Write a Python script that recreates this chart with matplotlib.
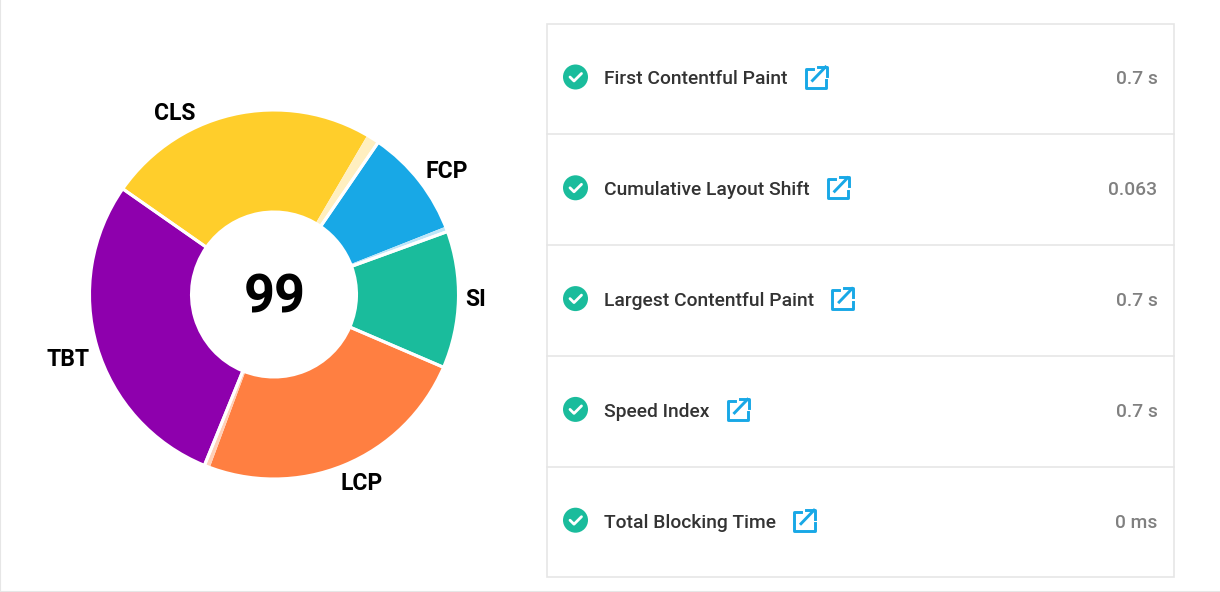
import matplotlib
matplotlib.use('Agg')
import matplotlib.pyplot as plt
from matplotlib.patches import Circle, Rectangle

plt.rcParams['font.family'] = ['Roboto', 'DejaVu Sans']

# donut, clockwise from FCP
slices = ['FCP', 'SI', 'LCP', 'TBT', 'CLS']
weights = [9.9, 12.0, 24.7, 28.55, 24.85]
scores = [0.955, 1.0, 0.98, 1.0, 0.955]
colors = ['#18a8e6', '#1abc9c', '#ff7f41', '#8e00ad', '#ffce2b']
light_colors = ['#bfe6f8', '#c6eee6', '#ffd0b8', '#e2bfea', '#ffefc0']
total_score = '99'

# metric table
metrics = ['First Contentful Paint', 'Cumulative Layout Shift', 'Largest Contentful Paint',
           'Speed Index', 'Total Blocking Time']
metric_values = ['0.7 s', '0.063', '0.7 s', '0.7 s', '0 ms']

W, H = 1220, 592
BORDER = '#e6e6e6'
GREEN = '#1abc9c'
BLUE = '#18a8e6'

fig = plt.figure(figsize=(W / 100, H / 100), dpi=100, facecolor='white')

# overlay in pixel coordinates
ax = fig.add_axes([0, 0, 1, 1])
ax.set_xlim(0, W)
ax.set_ylim(H, 0)
ax.axis('off')

# page edges
ax.plot([0.3, 0.3], [0, 591], color=BORDER, lw=0.8)
ax.plot([0, W], [591, 591], color=BORDER, lw=0.8)

# donut
cx, cy, radius, hole = 274, 294.5, 184.5, 82.5
pie_lim = 1.05
box = radius * pie_lim
pie_ax = fig.add_axes([(cx - box) / W, 1 - (cy + box) / H, 2 * box / W, 2 * box / H])
pie_ax.patch.set_alpha(0)

parts = []
part_colors = []
for w, s, c, lc in zip(weights, scores, colors, light_colors):
    parts += [w * s, w * (1 - s)]
    part_colors += [c, lc]

ring = {'width': 1 - hole / radius}
pie_ax.pie(parts, colors=part_colors, startangle=55.6, counterclock=False,
           wedgeprops={**ring, 'linewidth': 0})
pie_ax.pie(weights, colors=['none'] * 5, startangle=55.6, counterclock=False,
           wedgeprops={**ring, 'edgecolor': 'white', 'linewidth': 2.2})
pie_ax.set_xlim(-pie_lim, pie_lim)
pie_ax.set_ylim(-pie_lim, pie_lim)

# text on top of the donut
ax.set_zorder(2)
ax.text(cx + 1, cy + 3.5, total_score, fontsize=39, fontweight='bold', color='black',
        ha='center', va='center')
label_pos = [(447, 171), (476, 299), (362, 484), (68, 359), (175, 114)]
for name, (x, y) in zip(slices, label_pos):
    ax.text(x, y, name, fontsize=16.5, fontweight='bold', color='black',
            ha='center', va='center')

# table card
ax.add_patch(Rectangle((546.5, 23.5), 627, 553.5, fill=False, edgecolor=BORDER, lw=1.2))
row_h = 110.8
fig.canvas.draw()
renderer = fig.canvas.get_renderer()
for i, (name, value) in enumerate(zip(metrics, metric_values)):
    y = 78 + row_h * i
    if i > 0:
        ax.plot([546.5, 1173.5], [y - 54.6, y - 54.6], color=BORDER, lw=1.2)

    # check badge
    ax.add_patch(Circle((575.5, y - 1), 12.5, color=GREEN, lw=0))
    ax.plot([570, 574, 581.5], [y - 1, y + 3, y - 4.5], color='white', lw=2,
            solid_capstyle='round', solid_joinstyle='round')

    t = ax.text(603.5, y + 1.5, name, fontsize=13.9, fontweight='medium', color='#333333',
                ha='left', va='center')
    ax.text(1157.5, y + 1.5, value, fontsize=13.9, fontweight='medium', color='#808080',
            ha='right', va='center')

    # external link icon follows the text
    x0 = t.get_window_extent(renderer).x1 + 17.5
    yc = y - 1
    ax.plot([x0 + 8, x0 + 1, x0 + 1, x0 + 21.5, x0 + 21.5],
            [yc - 8.5, yc - 8.5, yc + 10.5, yc + 10.5, yc + 3],
            color=BLUE, lw=2.1, solid_joinstyle='round')
    ax.plot([x0 + 8, x0 + 21], [yc + 3.5, yc - 10], color=BLUE, lw=2.1)
    ax.plot([x0 + 13, x0 + 22, x0 + 22], [yc - 10.5, yc - 10.5, yc - 1.5], color=BLUE, lw=2.1)

fig.savefig('out.png', dpi=100)
